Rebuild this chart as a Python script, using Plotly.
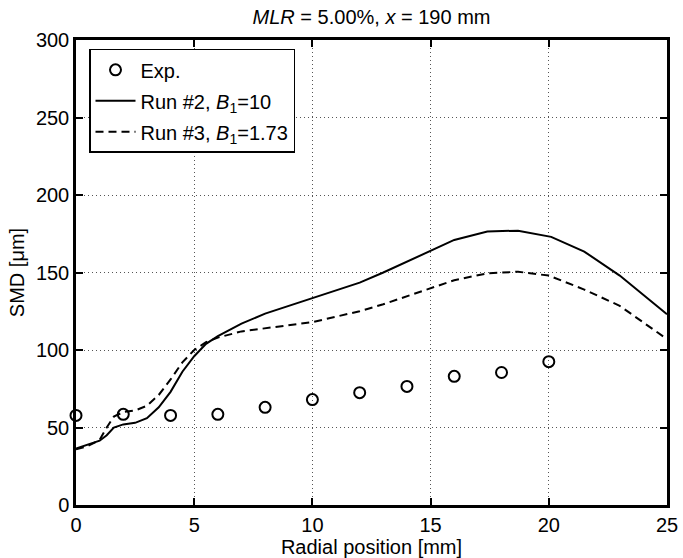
import plotly.graph_objects as go

exp_x = [0, 2, 4, 6, 8, 10, 12, 14, 16, 18, 20]
exp_y = [57.8, 58.5, 57.8, 58.5, 63, 68, 72.5, 76.5, 83, 85.5, 92.5]

run2_x = [0, 0.5, 1, 1.3, 1.6, 2, 2.5, 3, 3.5, 4, 4.5, 5, 5.5, 6, 7, 8, 9, 10, 11, 12, 13, 14, 15, 16, 17.4, 18.7, 20.1, 21.5, 23, 25]
run2_y = [36.5, 39, 41.5, 45, 50, 52, 53, 56, 63, 73, 86, 96, 104, 109, 117, 123.5, 128.5, 133, 138, 143.5, 150, 157, 164, 171, 176.5, 177, 173, 163.5, 148, 123]

run3_x = [0, 0.5, 1, 1.3, 1.6, 2, 2.5, 3, 3.5, 4, 4.5, 5, 5.5, 6, 7, 8, 9, 10, 11, 12, 13, 14, 15, 16, 17.4, 18.7, 20, 21.5, 23, 25]
run3_y = [36, 38, 42, 50, 57, 60, 61, 64, 71, 81, 92, 100, 105, 108, 112, 114, 116, 118, 121.5, 125, 129.5, 134.5, 140, 145, 149.5, 150.5, 148, 139, 128.5, 107]

x_ticks = [0, 5, 10, 15, 20, 25]
y_ticks = [0, 50, 100, 150, 200, 250, 300]

fig = go.Figure()
fig.add_trace(go.Scatter(x=exp_x, y=exp_y, mode="markers", name="Exp.", legendgroup="a",
                         cliponaxis=False,
                         marker=dict(symbol="circle-open", size=11, color="black",
                                     line=dict(width=2, color="black"))))
fig.add_trace(go.Scatter(x=run2_x, y=run2_y, mode="lines", name="Run #2, <i>B</i><sub>1</sub>=10",
                         legendgroup="b", line=dict(color="black", width=2)))
fig.add_trace(go.Scatter(x=run3_x, y=run3_y, mode="lines", name="Run #3, <i>B</i><sub>1</sub>=1.73",
                         legendgroup="c", line=dict(color="black", width=2, dash="8px,5px")))

axis_common = dict(showline=True, linewidth=2.5, linecolor="black", mirror="ticks",
                   ticks="inside", ticklen=7, tickwidth=1.5, tickcolor="black",
                   showgrid=True, gridcolor="#555", griddash="1px,3px", gridwidth=1,
                   zeroline=False, automargin=False,
                   tickfont=dict(size=20, color="black"))

fig.update_layout(
    width=683, height=558,
    margin=dict(l=76, r=16, t=40, b=53),
    paper_bgcolor="white", plot_bgcolor="white",
    font=dict(family="Liberation Sans, Arial, sans-serif", color="black"),
    title=dict(text="<i>MLR</i> = 5.00%, <i>x</i> = 190 mm", x=0.5, xref="paper", xanchor="center",
               y=1 - 17 / 558, yref="container", yanchor="middle", font=dict(size=20)),
    xaxis=dict(range=[0, 25], tickvals=x_ticks,
               title=dict(text="Radial position [mm]", font=dict(size=20), standoff=0), **axis_common),
    yaxis=dict(range=[0, 300], tickvals=y_ticks,
               title=dict(text="SMD [μm]", font=dict(size=20), standoff=6), **axis_common),
    legend=dict(x=0.022, y=0.981, xanchor="left", yanchor="top", bgcolor="white",
                bordercolor="black", borderwidth=1.5, font=dict(size=20), tracegroupgap=2,
                itemwidth=40),
    showlegend=True,
)

fig.write_html("out.html", config={"displayModeBar": False},
               post_script="document.body.style.margin='0';")
